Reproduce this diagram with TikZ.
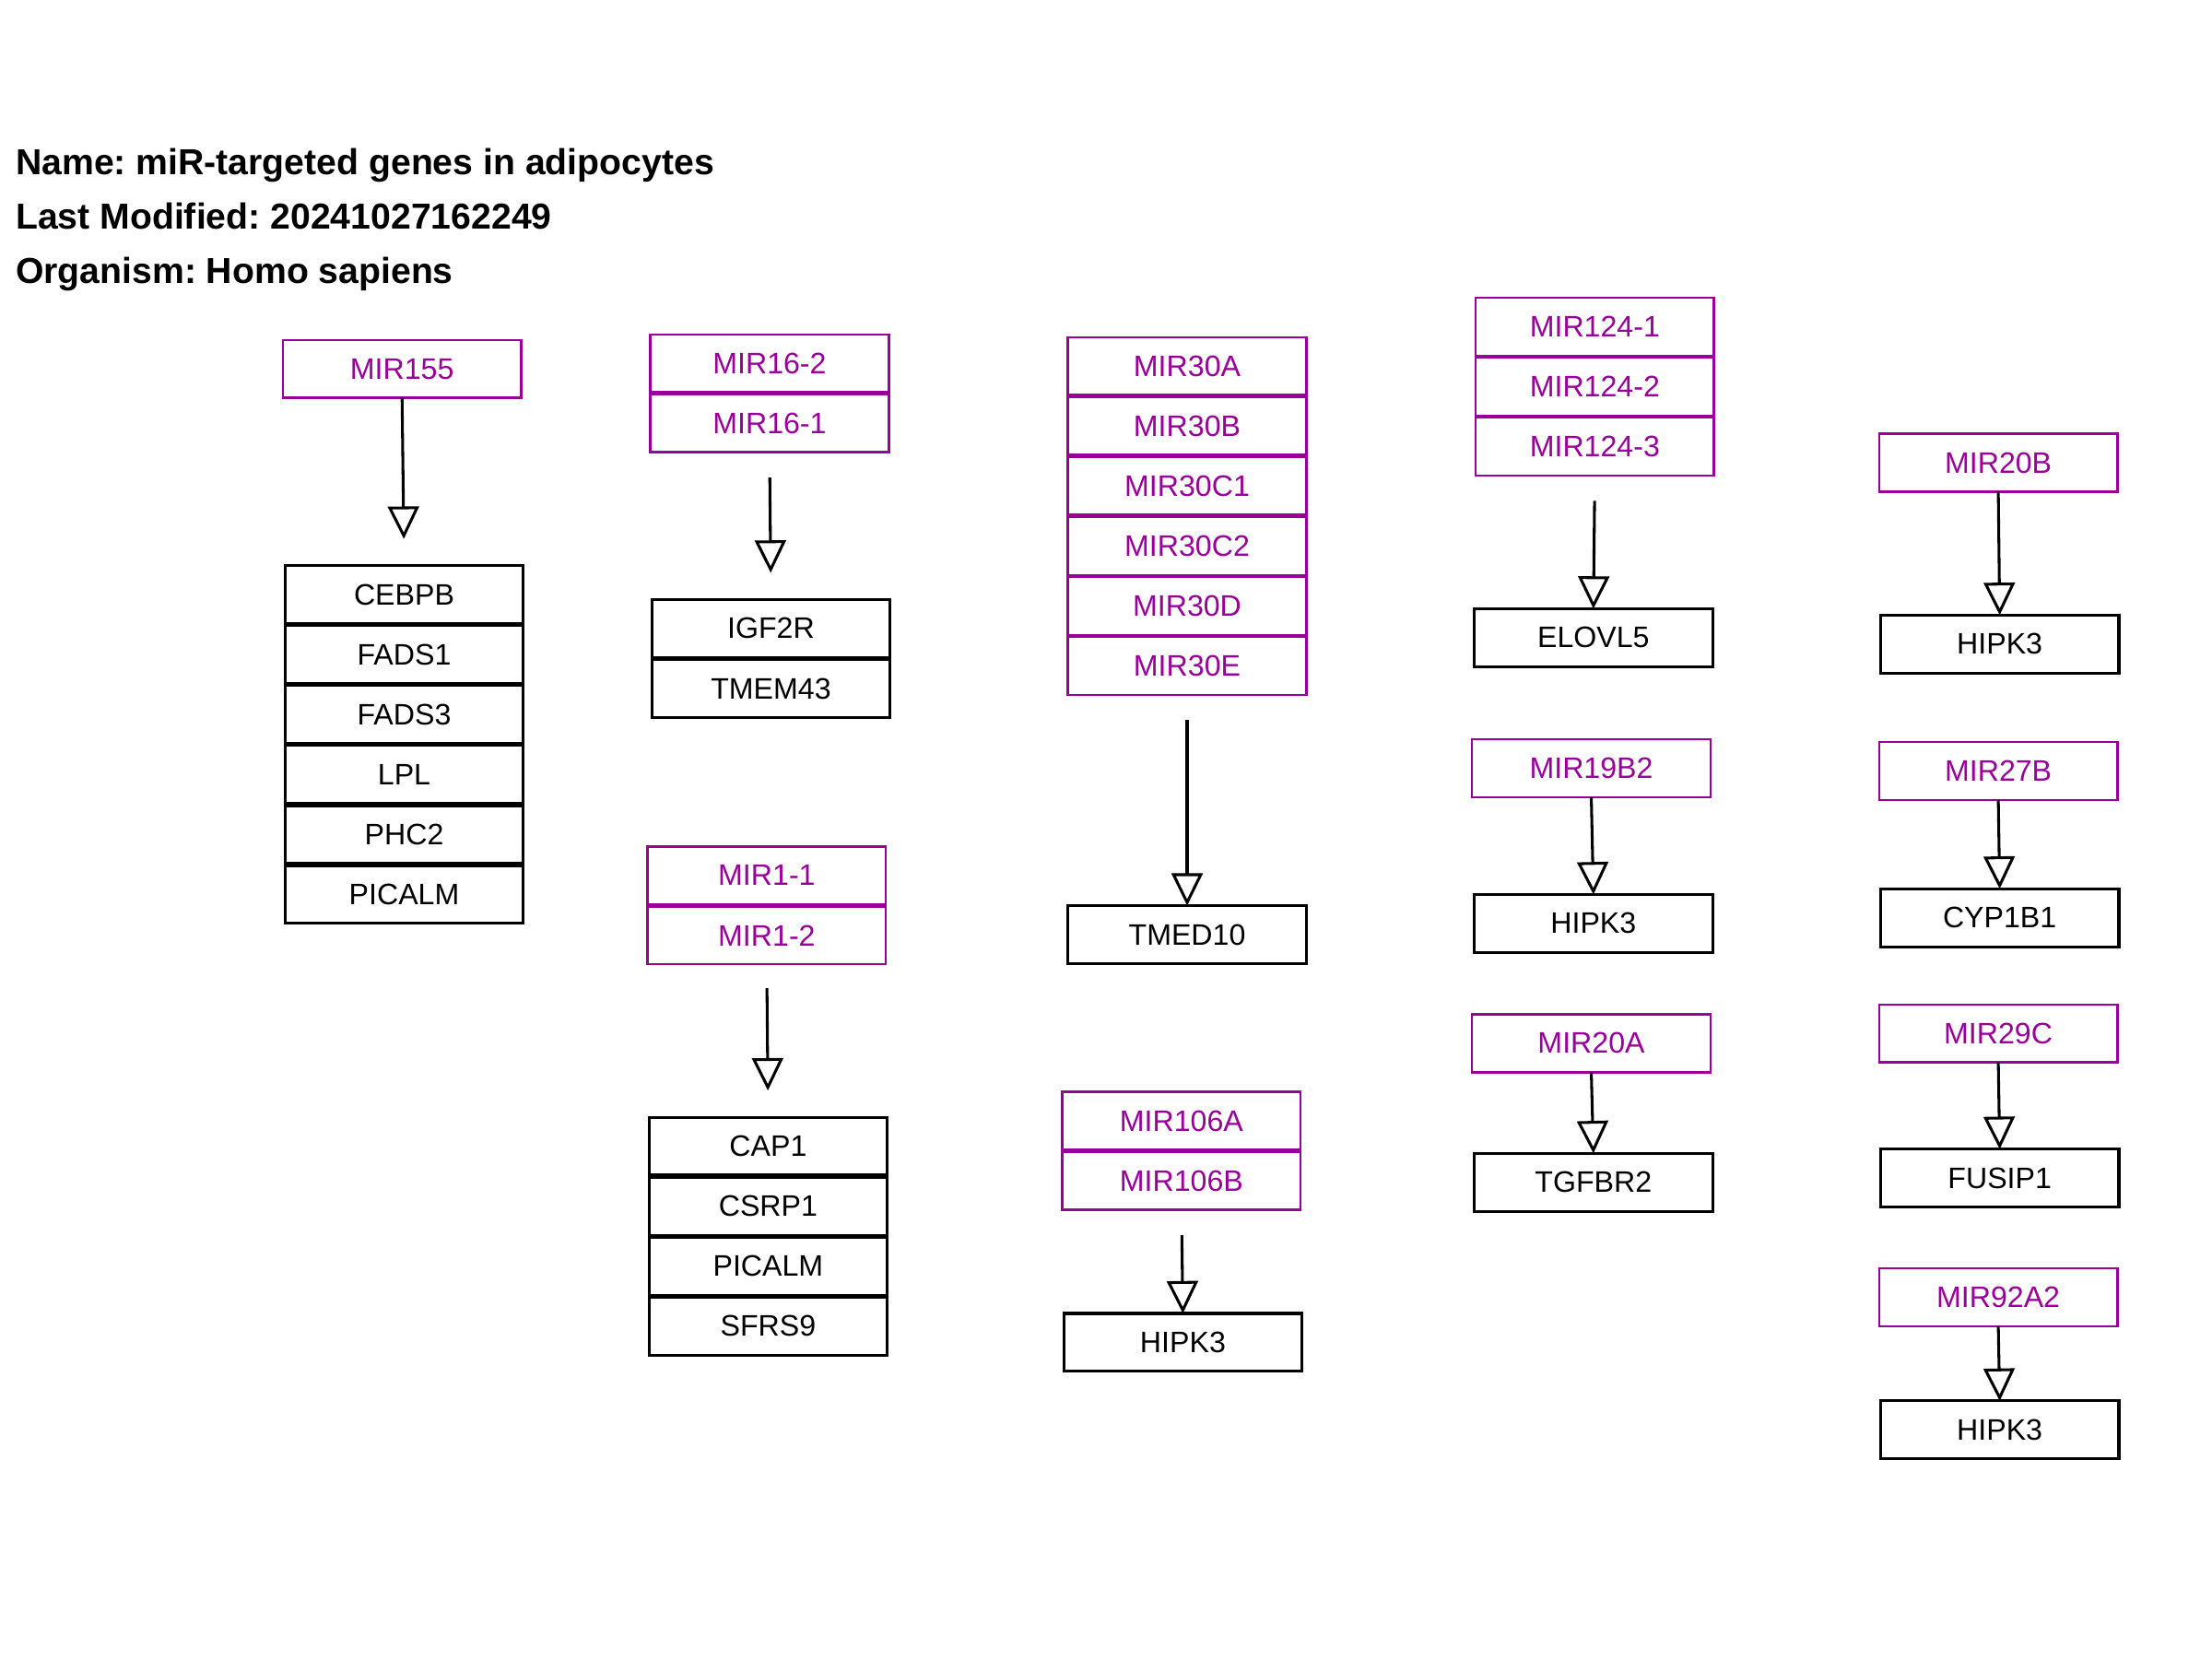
\documentclass[tikz,border=0pt]{standalone}
\usepackage{fontspec}
\setmainfont{Liberation Sans}
\usetikzlibrary{arrows.meta}
\definecolor{mirpurple}{RGB}{153,0,153}
\frenchspacing
\begin{document}
\begin{tikzpicture}[x=1pt,y=-1pt,
  box/.style={minimum width=169pt,minimum height=41pt,inner sep=0pt,outer sep=0pt,
    font=\fontsize{21}{25}\selectfont},
  gene/.style={box,draw=black,line width=2pt,text=black},
  mirna/.style={box,draw=mirpurple,line width=1.6pt,text=mirpurple},
  arr/.style={draw=black,line width=2pt,-{Triangle[open,length=23pt,width=22pt]}},
  ttl/.style={anchor=base west,inner sep=0pt,font=\fontsize{25.6}{30}\selectfont\bfseries}]
\useasboundingbox (0,0) rectangle (1568,1176);
\fill[white] (0,0) rectangle (1568,1176);
% title
\node[ttl] (t1) at (11,124) {Name: miR-targeted genes in adipocytes};
\node[ttl] (t2) at (11,162.5) {Last Modified: 20241027162249};
\node[ttl] (t3) at (11,201) {Organism: Homo sapiens};
% column 1
\node[mirna] (m155) at (285,261.5) {MIR155};
\node[gene] (g1a) at (286.5,421.5) {CEBPB};
\node[gene] (g1b) at (286.5,464) {FADS1};
\node[gene] (g1c) at (286.5,506.5) {FADS3};
\node[gene] (g1d) at (286.5,549) {LPL};
\node[gene] (g1e) at (286.5,591.5) {PHC2};
\node[gene] (g1f) at (286.5,634) {PICALM};
\draw[arr,shorten >=19pt] (m155.south) -- (g1a.north);
% column 2
\node[mirna] (m162) at (545.5,257.5) {MIR16-2};
\node[mirna] (m161) at (545.5,300) {MIR16-1};
\node[gene] (igf) at (546.5,445.5) {IGF2R};
\node[gene] (tmem) at (546.5,488) {TMEM43};
\draw[arr,shorten <=18pt,shorten >=19pt] (m161.south) -- (igf.north);
\node[mirna] (m11) at (543.5,620.5) {MIR1-1};
\node[mirna] (m12) at (543.5,663) {MIR1-2};
\node[gene] (cap) at (544.5,812.5) {CAP1};
\node[gene] (csrp) at (544.5,855) {CSRP1};
\node[gene] (pic2) at (544.5,897.5) {PICALM};
\node[gene] (sfrs) at (544.5,940) {SFRS9};
\draw[arr,shorten <=17pt,shorten >=19pt] (m12.south) -- (cap.north);
% column 3
\node[mirna] (m30a) at (841.5,259.5) {MIR30A};
\node[mirna] (m30b) at (841.5,302) {MIR30B};
\node[mirna] (m30c1) at (841.5,344.5) {MIR30C1};
\node[mirna] (m30c2) at (841.5,387) {MIR30C2};
\node[mirna] (m30d) at (841.5,429.5) {MIR30D};
\node[mirna] (m30e) at (841.5,472) {MIR30E};
\node[gene] (tmed) at (841.5,662.5) {TMED10};
\draw[arr,shorten <=18pt] (m30e.south) -- (tmed.north);
\node[mirna] (m106a) at (837.5,794.5) {MIR106A};
\node[mirna] (m106b) at (837.5,837) {MIR106B};
\node[gene] (hip1) at (838.5,951.5) {HIPK3};
\draw[arr,shorten <=18pt] (m106b.south) -- (hip1.north);
% column 4
\node[mirna] (m1241) at (1130.5,231.5) {MIR124-1};
\node[mirna] (m1242) at (1130.5,274) {MIR124-2};
\node[mirna] (m1243) at (1130.5,316.5) {MIR124-3};
\node[gene] (elo) at (1129.5,452) {ELOVL5};
\draw[arr,shorten <=18pt] (m1243.south) -- (elo.north);
\node[mirna] (m19) at (1128,544.5) {MIR19B2};
\node[gene] (hip2) at (1129.5,654.5) {HIPK3};
\draw[arr] (m19.south) -- (hip2.north);
\node[mirna] (m20a) at (1128,739.5) {MIR20A};
\node[gene] (tgf) at (1129.5,838) {TGFBR2};
\draw[arr] (m20a.south) -- (tgf.north);
% column 5
\node[mirna] (m20b) at (1416.5,328) {MIR20B};
\node[gene] (hip3) at (1417.5,456.5) {HIPK3};
\draw[arr] (m20b.south) -- (hip3.north);
\node[mirna] (m27) at (1416.5,546.5) {MIR27B};
\node[gene] (cyp) at (1417.5,650.5) {CYP1B1};
\draw[arr] (m27.south) -- (cyp.north);
\node[mirna] (m29) at (1416.5,732.5) {MIR29C};
\node[gene] (fus) at (1417.5,835) {FUSIP1};
\draw[arr] (m29.south) -- (fus.north);
\node[mirna] (m92) at (1416.5,919.5) {MIR92A2};
\node[gene] (hip4) at (1417.5,1013.5) {HIPK3};
\draw[arr] (m92.south) -- (hip4.north);
\end{tikzpicture}
\end{document}
